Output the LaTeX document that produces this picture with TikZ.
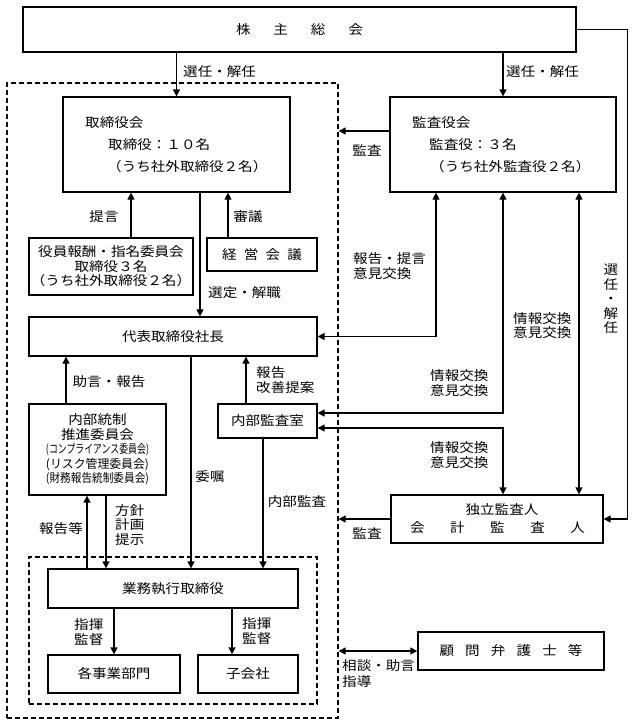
\documentclass[tikz,border=0pt]{standalone}
\usepackage{fontspec}
\usepackage{graphicx}
\setmainfont{Noto Sans CJK JP}[FakeStretch=1.12]
\usetikzlibrary{arrows.meta}
\newcommand\jfs{\fontsize{13}{14.5}\selectfont}
\newcommand\smallfit[1]{\resizebox{103pt}{\height}{\fontsize{12}{16}\selectfont #1}}
\begin{document}
\begin{tikzpicture}[x=1pt,y=-1pt,
  box/.style={draw, line width=1.3pt, inner sep=0pt, font=\jfs, align=center},
  dbox/.style={draw, line width=1.3pt, dash pattern=on 5pt off 3pt, inner sep=0pt},
  lbl/.style={inner sep=0pt, font=\jfs, align=left},
  arr/.style={line width=1.3pt, -{Triangle[length=7pt,width=7pt]}},
  darr/.style={line width=1.3pt, {Triangle[length=7pt,width=7pt]}-{Triangle[length=7pt,width=7pt]}},
  ln/.style={line width=1.3pt}
]
\useasboundingbox (0,0) rectangle (634,726);

% dashed group boxes
\node[dbox, minimum width=331pt, minimum height=635pt] (outer) at (172.5,400.5) {};
\node[dbox, minimum width=288pt, minimum height=147pt] (inner) at (173,630.5) {};

% boxes
\node[box, minimum width=553pt, minimum height=45pt] (sh) at (299.5,29.5)
  {\makebox[127pt][s]{株\hfill 主\hfill 総\hfill 会}};
\node[box, minimum width=227pt, minimum height=95pt] (tori) at (176.5,144.5) {};
\node[box, minimum width=226pt, minimum height=95pt] (kansa) at (503,144.5) {};
\node[box, minimum width=164pt, minimum height=57pt] (yakuin) at (111,266.5)
  {\fontsize{13}{17}\selectfont 役員報酬・指名委員会\\取締役３名\\（うち社外取締役２名）};
\node[box, minimum width=110pt, minimum height=33pt] (keiei) at (262,254.5)
  {\makebox[80pt][s]{経\hfill 営\hfill 会\hfill 議}};
\node[box, minimum width=288pt, minimum height=39pt] (dai) at (173,336.5) {代表取締役社長};
\node[box, minimum width=137pt, minimum height=91pt] (naisei) at (97.5,449.5)
  {\fontsize{13}{16}\selectfont 内部統制\\推進委員会\\\smallfit{(コンプライアンス委員会)}\\\smallfit{(リスク管理委員会)}\\\smallfit{(財務報告統制委員会)}};
\node[box, minimum width=99pt, minimum height=34pt] (naibu) at (267.5,421) {内部監査室};
\node[box, minimum width=212pt, minimum height=48pt] (dokuritsu) at (497,519) {};
\node[box, minimum width=250pt, minimum height=39pt] (gyomu) at (173,588.5) {業務執行取締役};
\node[box, minimum width=132pt, minimum height=38pt] (kaku) at (114,674) {各事業部門};
\node[box, minimum width=100pt, minimum height=38pt] (ko) at (248,674) {子会社};
\node[box, minimum width=186pt, minimum height=38pt] (komon) at (511,651)
  {\makebox[143pt][s]{顧\hfill 問\hfill 弁\hfill 護\hfill 士\hfill 等}};

% texts inside boxes
\node[lbl, anchor=west] (t1) at (85,123) {取締役会};
\node[lbl, anchor=west] (t2) at (108,145) {取締役：１０名};
\node[lbl, anchor=west] (t3) at (107,167) {（うち社外取締役２名）};
\node[lbl, anchor=west] (k1) at (412,123) {監査役会};
\node[lbl, anchor=west] (k2) at (429,145) {監査役：３名};
\node[lbl, anchor=west] (k3) at (430,167) {（うち社外監査役２名）};
\node[lbl] (d1) at (502,510) {独立監査人};
\node[lbl] (d2) at (497.5,528) {\makebox[175pt][s]{会\hfill 計\hfill 監\hfill 査\hfill 人}};

% connectors
\draw[arr] (sh.south -| tori.north) -- (tori.north);
\draw[arr] (sh.south -| kansa.north) -- (kansa.north);
\draw[arr] (sh.east) -- ++(51,0) |- (dokuritsu.east);

\coordinate (ka) at ([yshift=13.5pt]kansa.west);
\draw[arr] (ka) -- (ka -| outer.east);

\coordinate (ya) at ([xshift=20pt]yakuin.north);
\draw[arr] (ya) -- (ya |- tori.south);
\coordinate (ke) at ([xshift=-34pt]keiei.north);
\draw[arr] (ke) -- (ke |- tori.south);
\coordinate (ts) at ([xshift=23.5pt]tori.south);
\draw[arr] (ts) -- (ts |- dai.north);

\coordinate (kb1) at ([xshift=-67pt]kansa.south);
\draw[darr] (kb1) |- (dai.east);
\coordinate (nb1) at ([yshift=8pt]naibu.east);
\draw[darr] (kansa.south) |- (nb1);
\coordinate (nb2) at ([yshift=-7pt]naibu.east);
\draw[darr] (nb2) -| (kansa.south |- dokuritsu.north);
\coordinate (kb3) at ([xshift=76pt]kansa.south);
\draw[darr] (kb3) -- (kb3 |- dokuritsu.north);

\draw[arr] (dokuritsu.west) -- (dokuritsu.west -| outer.east);

\coordinate (ns) at ([xshift=-31.5pt]naisei.north);
\draw[arr] (ns) -- (ns |- dai.south);
\coordinate (nbt) at ([xshift=-21.5pt]naibu.north);
\draw[arr] (nbt) -- (nbt |- dai.south);
\coordinate (ds) at ([xshift=18pt]dai.south);
\draw[arr] (ds) -- (ds |- gyomu.north);
\coordinate (nbs) at ([xshift=-4.5pt]naibu.south);
\draw[arr] (nbs) -- (nbs |- gyomu.north);
\coordinate (gy1) at ([xshift=-86pt]gyomu.north);
\draw[arr] (gy1) -- (gy1 |- naisei.south);
\coordinate (nss) at ([xshift=8.5pt]naisei.south);
\draw[arr] (nss) -- (nss |- gyomu.north);
\draw[arr] (gyomu.south -| kaku.north) -- (kaku.north);
\coordinate (kon) at ([xshift=-16pt]ko.north);
\draw[arr] (kon |- gyomu.south) -- (kon);
\draw[darr] (komon.west -| outer.east) -- (komon.west);

% labels
\node[lbl, anchor=west] (l1) at (183,72) {選任・解任};
\node[lbl, anchor=west] (l2) at (506,72) {選任・解任};
\node[lbl, align=center] (l3) at (611,299) {選\\任\\・\\解\\任};
\node[lbl] (l4) at (367,150) {監査};
\node[lbl] (l5) at (104,217) {提言};
\node[lbl] (l6) at (248,217) {審議};
\node[lbl, anchor=west] (l7) at (208,293) {選定・解職};
\node[lbl, anchor=west] (l8) at (353,266) {報告・提言\\意見交換};
\node[lbl, anchor=west] (l9) at (513,325.5) {情報交換\\意見交換};
\node[lbl, anchor=west] (l10) at (430,383) {情報交換\\意見交換};
\node[lbl, anchor=west] (l11) at (430,455) {情報交換\\意見交換};
\node[lbl] (l12) at (109,382) {助言・報告};
\node[lbl, anchor=west] (l13) at (256,380) {報告\\改善提案};
\node[lbl] (l14) at (210,477) {委嘱};
\node[lbl] (l15) at (297,502) {内部監査};
\node[lbl] (l16) at (61,529) {報告等};
\node[lbl, anchor=west] (l17) at (115,525) {方針\\計画\\提示};
\node[lbl, anchor=west] (l18) at (74,632) {指揮\\監督};
\node[lbl, anchor=west] (l19) at (242,631) {指揮\\監督};
\node[lbl] (l20) at (367,533) {監査};
\node[lbl, anchor=west, font=\fontsize{13}{16.5}\selectfont] (l21) at (342,673.5) {相談・助言\\指導};
\end{tikzpicture}
\end{document}
